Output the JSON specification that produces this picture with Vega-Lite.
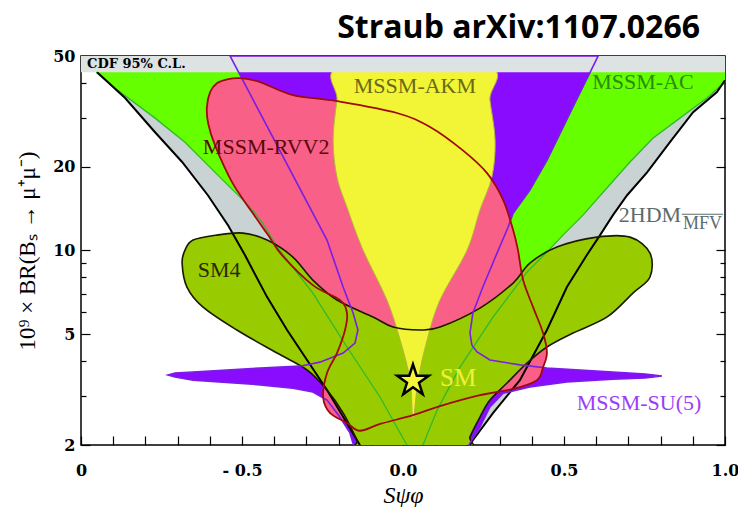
{
  "$schema": "https://vega.github.io/schema/vega-lite/v6.json",
  "width": 644,
  "height": 389,
  "autosize": {"type": "none"},
  "padding": {"left": 81, "top": 56, "right": 13, "bottom": 62},
  "background": "white",
  "title": {"text": "Straub arXiv:1107.0266", "anchor": "end", "frame": "group", "font": "Open Sans", "fontSize": 32, "fontWeight": "bold", "color": "black", "baseline": "alphabetic", "offset": 18, "dx": -25, "dy": 40},
  "datasets": {
    "hdm": [
      {"i":0,"s":"C","x":-0.99,"y":50},
      {"i":1,"s":"L","x":-0.95,"y":43.7},
      {"i":2,"s":"L","x":-0.863,"y":35.3},
      {"i":3,"s":"L","x":-0.77,"y":26.6},
      {"i":4,"s":"L","x":-0.686,"y":20.8},
      {"i":5,"s":"L","x":-0.606,"y":15.8},
      {"i":6,"s":"L","x":-0.543,"y":12.3},
      {"i":7,"s":"L","x":-0.491,"y":9.63},
      {"i":8,"s":"L","x":-0.422,"y":6.8},
      {"i":9,"s":"L","x":-0.36,"y":5.18},
      {"i":10,"s":"L","x":-0.298,"y":4.04},
      {"i":11,"s":"L","x":-0.236,"y":3.15},
      {"i":12,"s":"L","x":-0.18,"y":2.46},
      {"i":13,"s":"L","x":-0.134,"y":2.0},
      {"i":14,"s":"L","x":-0.124,"y":1.92},
      {"i":15,"s":"R","x":0.202,"y":1.92},
      {"i":16,"s":"R","x":0.208,"y":2.0},
      {"i":17,"s":"R","x":0.217,"y":2.08},
      {"i":18,"s":"R","x":0.28,"y":2.61},
      {"i":19,"s":"R","x":0.363,"y":3.42},
      {"i":20,"s":"R","x":0.447,"y":5.18},
      {"i":21,"s":"R","x":0.509,"y":7.39},
      {"i":22,"s":"R","x":0.571,"y":9.63},
      {"i":23,"s":"R","x":0.612,"y":11.36},
      {"i":24,"s":"R","x":0.652,"y":13.4},
      {"i":25,"s":"R","x":0.696,"y":15.8},
      {"i":26,"s":"R","x":0.758,"y":19.1},
      {"i":27,"s":"R","x":0.829,"y":24.5},
      {"i":28,"s":"R","x":0.901,"y":31.4},
      {"i":29,"s":"R","x":0.975,"y":37.1},
      {"i":30,"s":"R","x":1.0,"y":40.9},
      {"i":31,"s":"C","x":1.0,"y":50}
    ],
    "ac": [
      {"i":0,"s":"C","x":-0.997,"y":50},
      {"i":1,"s":"L","x":-0.953,"y":43.7},
      {"i":2,"s":"L","x":-0.894,"y":38.3},
      {"i":3,"s":"L","x":-0.77,"y":29.9},
      {"i":4,"s":"L","x":-0.677,"y":24.5},
      {"i":5,"s":"L","x":-0.575,"y":18.66},
      {"i":6,"s":"L","x":-0.481,"y":14.56},
      {"i":7,"s":"L","x":-0.438,"y":12.65},
      {"i":8,"s":"L","x":-0.388,"y":10.2},
      {"i":9,"s":"L","x":-0.28,"y":7.03},
      {"i":10,"s":"L","x":-0.174,"y":4.5},
      {"i":11,"s":"L","x":-0.071,"y":2.97},
      {"i":12,"s":"L","x":0.012,"y":2.0},
      {"i":13,"s":"L","x":0.022,"y":1.92},
      {"i":14,"s":"R","x":0.053,"y":1.92},
      {"i":15,"s":"R","x":0.062,"y":2.0},
      {"i":16,"s":"R","x":0.106,"y":2.67},
      {"i":17,"s":"R","x":0.177,"y":3.81},
      {"i":18,"s":"R","x":0.28,"y":5.77},
      {"i":19,"s":"R","x":0.385,"y":8.36},
      {"i":20,"s":"R","x":0.447,"y":9.87},
      {"i":21,"s":"R","x":0.497,"y":11.36},
      {"i":22,"s":"R","x":0.559,"y":13.4},
      {"i":23,"s":"R","x":0.634,"y":16.8},
      {"i":24,"s":"R","x":0.705,"y":20.8},
      {"i":25,"s":"R","x":0.776,"y":25.3},
      {"i":26,"s":"R","x":0.86,"y":29.9},
      {"i":27,"s":"R","x":0.944,"y":35.3},
      {"i":28,"s":"R","x":1.0,"y":40.3},
      {"i":29,"s":"C","x":1.0,"y":50}
    ],
    "su5": [
      {"i":0,"x":-0.537,"y":50},
      {"i":1,"x":0.606,"y":50},
      {"i":2,"x":0.581,"y":43.7},
      {"i":3,"x":0.528,"y":32.8},
      {"i":4,"x":0.447,"y":21.1},
      {"i":5,"x":0.394,"y":16.5},
      {"i":6,"x":0.342,"y":13.6},
      {"i":7,"x":0.326,"y":12.1},
      {"i":8,"x":0.292,"y":9.79},
      {"i":9,"x":0.248,"y":7.39},
      {"i":10,"x":0.217,"y":5.96},
      {"i":11,"x":0.208,"y":5.05},
      {"i":12,"x":0.214,"y":4.57},
      {"i":13,"x":0.23,"y":4.32},
      {"i":14,"x":0.27,"y":4.04},
      {"i":15,"x":0.363,"y":3.88},
      {"i":16,"x":0.447,"y":3.78},
      {"i":17,"x":0.55,"y":3.72},
      {"i":18,"x":0.652,"y":3.66},
      {"i":19,"x":0.752,"y":3.6},
      {"i":20,"x":0.804,"y":3.54},
      {"i":21,"x":0.752,"y":3.48},
      {"i":22,"x":0.652,"y":3.45},
      {"i":23,"x":0.509,"y":3.37},
      {"i":24,"x":0.394,"y":3.23},
      {"i":25,"x":0.311,"y":3.07},
      {"i":26,"x":0.27,"y":2.74},
      {"i":27,"x":0.239,"y":2.32},
      {"i":28,"x":0.208,"y":2.03},
      {"i":29,"x":0.196,"y":1.92},
      {"i":30,"x":-0.149,"y":1.92},
      {"i":31,"x":-0.165,"y":2.21},
      {"i":32,"x":-0.196,"y":2.52},
      {"i":33,"x":-0.236,"y":2.9},
      {"i":34,"x":-0.28,"y":3.1},
      {"i":35,"x":-0.342,"y":3.2},
      {"i":36,"x":-0.444,"y":3.29},
      {"i":37,"x":-0.652,"y":3.42},
      {"i":38,"x":-0.708,"y":3.51},
      {"i":39,"x":-0.73,"y":3.57},
      {"i":40,"x":-0.708,"y":3.63},
      {"i":41,"x":-0.652,"y":3.66},
      {"i":42,"x":-0.444,"y":3.78},
      {"i":43,"x":-0.32,"y":3.84},
      {"i":44,"x":-0.258,"y":3.97},
      {"i":45,"x":-0.186,"y":4.28},
      {"i":46,"x":-0.149,"y":4.65},
      {"i":47,"x":-0.14,"y":5.18},
      {"i":48,"x":-0.155,"y":5.96},
      {"i":49,"x":-0.186,"y":7.39},
      {"i":50,"x":-0.236,"y":10.9}
    ],
    "rvv": [
      {"i":0,"x":-0.609,"y":32.8},
      {"i":1,"x":-0.599,"y":37.1},
      {"i":2,"x":-0.578,"y":39.9},
      {"i":3,"x":-0.543,"y":41.3},
      {"i":4,"x":-0.506,"y":41.6},
      {"i":5,"x":-0.444,"y":40.3},
      {"i":6,"x":-0.342,"y":36.2},
      {"i":7,"x":-0.205,"y":34.4},
      {"i":8,"x":-0.019,"y":31.2},
      {"i":9,"x":0.084,"y":27.8},
      {"i":10,"x":0.186,"y":22.9},
      {"i":11,"x":0.261,"y":18.97},
      {"i":12,"x":0.311,"y":15.2},
      {"i":13,"x":0.342,"y":11.84},
      {"i":14,"x":0.357,"y":10.03},
      {"i":15,"x":0.373,"y":7.83},
      {"i":16,"x":0.404,"y":6.26},
      {"i":17,"x":0.435,"y":5.05},
      {"i":18,"x":0.447,"y":4.28},
      {"i":19,"x":0.435,"y":3.81},
      {"i":20,"x":0.416,"y":3.42},
      {"i":21,"x":0.342,"y":3.18},
      {"i":22,"x":0.239,"y":3.02},
      {"i":23,"x":0.115,"y":2.76},
      {"i":24,"x":0.031,"y":2.56},
      {"i":25,"x":-0.071,"y":2.38},
      {"i":26,"x":-0.134,"y":2.25},
      {"i":27,"x":-0.174,"y":2.4},
      {"i":28,"x":-0.227,"y":2.61},
      {"i":29,"x":-0.248,"y":2.97},
      {"i":30,"x":-0.236,"y":3.63},
      {"i":31,"x":-0.205,"y":4.28},
      {"i":32,"x":-0.18,"y":5.18},
      {"i":33,"x":-0.174,"y":5.96},
      {"i":34,"x":-0.196,"y":6.64},
      {"i":35,"x":-0.28,"y":7.51},
      {"i":36,"x":-0.376,"y":9.63},
      {"i":37,"x":-0.419,"y":11.36},
      {"i":38,"x":-0.469,"y":13.74},
      {"i":39,"x":-0.531,"y":17.6},
      {"i":40,"x":-0.584,"y":23.9},
      {"i":41,"x":-0.605,"y":28.6}
    ],
    "sm4": [
      {"i":0,"x":-0.686,"y":9.01},
      {"i":1,"x":-0.677,"y":10.03},
      {"i":2,"x":-0.652,"y":10.9},
      {"i":3,"x":-0.578,"y":11.36},
      {"i":4,"x":-0.497,"y":11.55},
      {"i":5,"x":-0.422,"y":10.9},
      {"i":6,"x":-0.342,"y":9.47},
      {"i":7,"x":-0.28,"y":7.83},
      {"i":8,"x":-0.205,"y":6.64},
      {"i":9,"x":-0.093,"y":5.77},
      {"i":10,"x":-0.031,"y":5.31},
      {"i":11,"x":0.053,"y":5.18},
      {"i":12,"x":0.115,"y":5.31},
      {"i":13,"x":0.239,"y":6.21},
      {"i":14,"x":0.342,"y":7.64},
      {"i":15,"x":0.394,"y":9.01},
      {"i":16,"x":0.478,"y":10.29},
      {"i":17,"x":0.602,"y":11.17},
      {"i":18,"x":0.705,"y":11.17},
      {"i":19,"x":0.767,"y":9.79},
      {"i":20,"x":0.767,"y":8.03},
      {"i":21,"x":0.714,"y":7.03},
      {"i":22,"x":0.634,"y":5.77},
      {"i":23,"x":0.528,"y":5.05},
      {"i":24,"x":0.447,"y":4.5},
      {"i":25,"x":0.385,"y":3.94},
      {"i":26,"x":0.323,"y":3.34},
      {"i":27,"x":0.27,"y":2.9},
      {"i":28,"x":0.239,"y":2.52},
      {"i":29,"x":0.208,"y":2.14},
      {"i":30,"x":0.193,"y":1.92},
      {"i":31,"x":-0.134,"y":1.92},
      {"i":32,"x":-0.143,"y":2.08},
      {"i":33,"x":-0.186,"y":2.61},
      {"i":34,"x":-0.236,"y":3.15},
      {"i":35,"x":-0.298,"y":3.72},
      {"i":36,"x":-0.391,"y":4.28},
      {"i":37,"x":-0.516,"y":5.18},
      {"i":38,"x":-0.621,"y":6.26},
      {"i":39,"x":-0.671,"y":7.39}
    ],
    "akm": [
      {"i":0,"x":-0.186,"y":46},
      {"i":1,"x":-0.205,"y":34.7},
      {"i":2,"x":-0.217,"y":24.9},
      {"i":3,"x":-0.205,"y":18.36},
      {"i":4,"x":-0.174,"y":14.3},
      {"i":5,"x":-0.124,"y":10.03},
      {"i":6,"x":-0.05,"y":6.64},
      {"i":7,"x":-0.009,"y":4.77},
      {"i":8,"x":0.022,"y":3.42},
      {"i":9,"x":0.031,"y":2.46},
      {"i":10,"x":0.047,"y":3.42},
      {"i":11,"x":0.075,"y":4.77},
      {"i":12,"x":0.115,"y":6.64},
      {"i":13,"x":0.199,"y":10.03},
      {"i":14,"x":0.239,"y":13.97},
      {"i":15,"x":0.276,"y":18.36},
      {"i":16,"x":0.286,"y":24.9},
      {"i":17,"x":0.27,"y":34.7},
      {"i":18,"x":0.258,"y":46}
    ],
    "labels": [
      {"t":"MSSM-AKM","x":0.037,"y":39.0},
      {"t":"MSSM-AC","x":0.745,"y":40.3},
      {"t":"MSSM-RVV2","x":-0.425,"y":23.5},
      {"t":"SM4","x":-0.571,"y":8.51},
      {"t":"2HDM","x":0.767,"y":13.4},
      {"t":"MSSM-SU(5)","x":0.733,"y":2.83}
    ]
  },
  "layer": [
    {
      "encoding": {
        "x": {"field": "x", "type": "quantitative",
          "scale": {"domain": [-1, 1], "nice": false, "zero": false},
          "axis": {"orient": "bottom",
            "values": [-1,-0.9,-0.8,-0.7,-0.6,-0.5,-0.4,-0.3,-0.2,-0.1,0,0.1,0.2,0.3,0.4,0.5,0.6,0.7,0.8,0.9,1],
            "labelExpr": "datum.value == -1 ? '0' : datum.value == -0.5 ? '- 0.5' : datum.value == 0 ? '0.0' : datum.value == 0.5 ? '0.5' : datum.value == 1 ? '1.0' : ''",
            "tickSize": -9, "labelPadding": 26, "title": "Sψφ", "titlePadding": 5, "titleFontSize": 24}},
        "y": {"field": "y", "type": "quantitative",
          "scale": {"type": "log", "domain": [2, 50], "nice": false},
          "axis": {"orient": "left",
            "values": [2,3,4,5,6,7,8,9,10,20,30,40,50],
            "labelExpr": "(datum.value==2||datum.value==5||datum.value==10||datum.value==20||datum.value==50) ? datum.label : ''",
            "tickSize": {"condition": {"test": "datum.value==2||datum.value==5||datum.value==10||datum.value==20||datum.value==50", "value": -9}, "value": -5},
            "labelPadding": 15, "title": "10⁹ × BR(Bₛ → μ⁺μ⁻)", "titlePadding": 13, "titleFontSize": 23}}
      },
      "layer": [
        {"data": {"name": "hdm"}, "mark": {"type": "line", "interpolate": "linear-closed", "fill": "#c9d3d3", "strokeWidth": 0, "clip": true},
         "encoding": {"order": {"field": "i", "type": "quantitative"}}},
        {"data": {"name": "ac"}, "mark": {"type": "line", "interpolate": "linear-closed", "fill": "#66ff00", "strokeWidth": 0, "clip": true},
         "encoding": {"order": {"field": "i", "type": "quantitative"}}},
        {"data": {"name": "su5"}, "mark": {"type": "line", "interpolate": "linear-closed", "fill": "#8a0cff", "strokeWidth": 0, "clip": true},
         "encoding": {"order": {"field": "i", "type": "quantitative"}}},
        {"data": {"name": "rvv"}, "mark": {"type": "line", "interpolate": "cardinal-closed", "fill": "#f86088", "strokeWidth": 0, "clip": true},
         "encoding": {"order": {"field": "i", "type": "quantitative"}}},
        {"data": {"name": "sm4"}, "mark": {"type": "line", "interpolate": "cardinal-closed", "fill": "#99cc00", "strokeWidth": 0, "clip": true},
         "encoding": {"order": {"field": "i", "type": "quantitative"}}},
        {"data": {"name": "akm"}, "mark": {"type": "line", "interpolate": "cardinal-closed", "fill": "#f2f535", "stroke": "#b4b43c", "strokeWidth": 1, "clip": true},
         "encoding": {"order": {"field": "i", "type": "quantitative"}}},
        {"data": {"values": [{"x": -1, "x2": 1, "y": 43.7, "y2": 50}]}, "mark": {"type": "rect", "fill": "#dde3e3", "clip": true},
         "encoding": {"x2": {"field": "x2"}, "y2": {"field": "y2"}}},
        {"data": {"name": "ac"}, "transform": [{"filter": "datum.s != 'C'"}], "mark": {"type": "line", "stroke": "#2fb82f", "strokeWidth": 1.3, "clip": true},
         "encoding": {"order": {"field": "i", "type": "quantitative"}, "detail": {"field": "s"}}},
        {"data": {"name": "hdm"}, "transform": [{"filter": "datum.s != 'C'"}], "mark": {"type": "line", "stroke": "black", "strokeWidth": 2, "clip": true},
         "encoding": {"order": {"field": "i", "type": "quantitative"}, "detail": {"field": "s"}}},
        {"data": {"name": "sm4"}, "mark": {"type": "line", "interpolate": "cardinal-closed", "stroke": "#1a1a00", "strokeWidth": 1.6, "clip": true},
         "encoding": {"order": {"field": "i", "type": "quantitative"}}},
        {"data": {"name": "su5"}, "mark": {"type": "line", "interpolate": "linear-closed", "stroke": "#7a1ee6", "strokeWidth": 1.6, "clip": true},
         "encoding": {"order": {"field": "i", "type": "quantitative"}}},
        {"data": {"name": "rvv"}, "mark": {"type": "line", "interpolate": "cardinal-closed", "stroke": "#a00a0a", "strokeWidth": 1.8, "clip": true},
         "encoding": {"order": {"field": "i", "type": "quantitative"}}},
        {"data": {"values": [{"x": 0.031, "y": 3.4}]},
         "mark": {"type": "point", "shape": "M0,-1L0.2245,-0.309L0.951,-0.309L0.363,0.118L0.588,0.809L0,0.382L-0.588,0.809L-0.363,0.118L-0.951,-0.309L-0.2245,-0.309Z", "size": 1100, "filled": true, "fill": "#f5f53c", "stroke": "black", "strokeWidth": 2.5, "opacity": 1}},
        {"data": {"values": [{"x": 0.866, "x2": 0.994, "y": 13.5}]}, "mark": {"type": "rule", "stroke": "#5c6b6b", "strokeWidth": 1.2},
         "encoding": {"x2": {"field": "x2"}}},
        {"data": {"name": "labels"}, "mark": {"type": "text", "font": "Liberation Serif", "fontSize": 22, "align": "center", "baseline": "middle"},
         "encoding": {"text": {"field": "t"},
           "color": {"field": "t", "type": "nominal", "legend": null,
             "scale": {"domain": ["MSSM-AKM","MSSM-AC","MSSM-RVV2","SM4","2HDM","MSSM-SU(5)"], "range": ["#6a6a14","#2e8a10","#5a0808","#2a2a05","#5c6b6b","#9b3df5"]}}}},
        {"data": {"values": [{"t": "MFV", "x": 0.93, "y": 12.5}]}, "mark": {"type": "text", "font": "Liberation Serif", "fontSize": 18, "align": "center", "baseline": "middle", "color": "#5c6b6b"},
         "encoding": {"text": {"field": "t"}}},
        {"data": {"values": [{"t": "SM", "x": 0.171, "y": 3.48}]}, "mark": {"type": "text", "font": "Liberation Serif", "fontSize": 25, "align": "center", "baseline": "middle", "color": "#f0f03c"},
         "encoding": {"text": {"field": "t"}}},
        {"data": {"values": [{"t": "CDF 95% C.L.", "x": -0.981, "y": 46.7}]}, "mark": {"type": "text", "font": "DejaVu Serif", "fontSize": 13, "fontWeight": "bold", "align": "left", "baseline": "middle", "color": "black"},
         "encoding": {"text": {"field": "t"}}}
      ]
    },
    {
      "data": {"values": [{"y": 10}]},
      "mark": {"type": "point", "opacity": 0},
      "encoding": {
        "y": {"field": "y", "type": "quantitative", "scale": {"type": "log", "domain": [2, 50], "nice": false},
          "axis": {"orient": "right", "values": [2,3,4,5,6,7,8,9,10,20,30,40,50], "labels": false, "title": null,
            "tickSize": {"condition": {"test": "datum.value==2||datum.value==5||datum.value==10||datum.value==20||datum.value==50", "value": -9}, "value": -5}}}
      }
    }
  ],
  "resolve": {"axis": {"y": "independent"}},
  "config": {
    "view": {"stroke": "black", "strokeWidth": 1.5},
    "axis": {"domain": false, "grid": false, "tickColor": "black", "tickWidth": 1.2,
      "labelFont": "DejaVu Serif", "labelFontWeight": "bold", "labelFontSize": 16, "labelColor": "black",
      "labelOverlap": false, "labelFlush": false,
      "titleFont": "Liberation Serif", "titleFontWeight": "normal", "titleFontSize": 22, "titleColor": "black"},
    "axisX": {"titleFontStyle": "italic"}
  }
}
